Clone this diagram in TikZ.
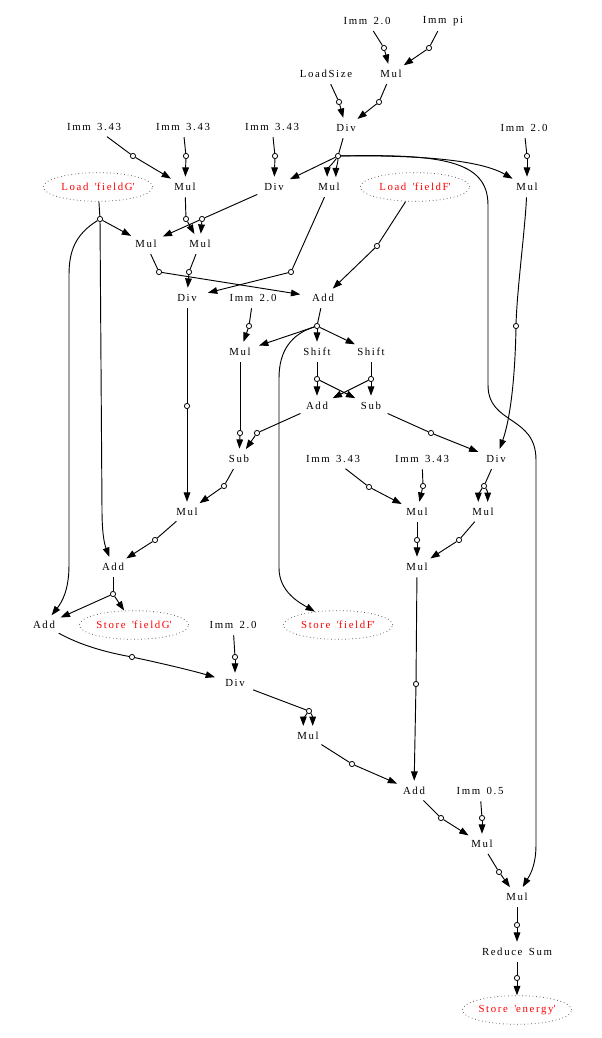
\documentclass[tikz,border=0pt]{standalone}
\usepackage{fontspec}
\setmainfont{Liberation Serif}[LetterSpace=15,WordSpace=1.5]
\usetikzlibrary{arrows.meta,shapes.geometric}
\newcommand{\q}{\textquotesingle}
\begin{document}
\begin{tikzpicture}[x=0.75pt,y=-0.75pt,
  op/.style={ellipse, minimum width=36pt, minimum height=15pt, inner sep=0pt,
    font=\fontsize{8.1pt}{9pt}\selectfont, text=black},
  io/.style={ellipse, draw=black!65, dash pattern=on 0.55pt off 2.1pt, line width=0.6pt,
    minimum width=82pt, minimum height=21.5pt, inner sep=0pt, text=red,
    font=\fontsize{8.1pt}{9pt}\selectfont},
  pt/.style={circle, draw=black, fill=white, minimum size=3.9pt, inner sep=0pt, line width=0.6pt},
  e/.style={line width=0.7pt, black},
  ea/.style={e, -{Triangle[length=7pt,width=5pt]}}]
\useasboundingbox (0,0) rectangle (601,1038);
% nodes
\node[op] (i1) at (367,21) {Imm 2.0};
\node[op] (i2) at (443,21) {Imm pi};
\node[op] (ls) at (326,74) {LoadSize};
\node[op] (m1) at (391,74) {Mul};
\node[op] (i3) at (94,127) {Imm 3.43};
\node[op] (i4) at (183,127) {Imm 3.43};
\node[op] (i5) at (272,127) {Imm 3.43};
\node[op] (d1) at (346,128) {Div};
\node[op] (i6) at (524,128) {Imm 2.0};
\node[io] (lg) at (98,187) {Load \q fieldG\q};
\node[op] (m2) at (185,187) {Mul};
\node[op] (d2) at (274,187) {Div};
\node[op] (m3) at (329,187) {Mul};
\node[io] (lf) at (415,187) {Load \q fieldF\q};
\node[op] (m4) at (527,187) {Mul};
\node[op] (m5) at (146,244) {Mul};
\node[op] (m6) at (200,244) {Mul};
\node[op] (d3) at (187,298) {Div};
\node[op] (i7) at (253,298) {Imm 2.0};
\node[op] (a1) at (323,298) {Add};
\node[op] (m7) at (240,352) {Mul};
\node[op] (s1) at (317,352) {Shift};
\node[op] (s2) at (371,352) {Shift};
\node[op] (a2) at (317,406) {Add};
\node[op] (sb1) at (371,406) {Sub};
\node[op] (sb2) at (239,459) {Sub};
\node[op] (i8) at (333,459) {Imm 3.43};
\node[op] (i9) at (422,459) {Imm 3.43};
\node[op] (d4) at (496,459) {Div};
\node[op] (m8) at (187,512) {Mul};
\node[op] (m9) at (417,512) {Mul};
\node[op] (m10) at (483,512) {Mul};
\node[op] (a3) at (113,567) {Add};
\node[op] (m11) at (417,567) {Mul};
\node[op] (a4) at (44,625) {Add};
\node[io] (sg) at (134,625) {Store \q fieldG\q};
\node[op] (i10) at (233,625) {Imm 2.0};
\node[io] (sf) at (338,625) {Store \q fieldF\q};
\node[op] (d5) at (235,683) {Div};
\node[op] (m12) at (308,736) {Mul};
\node[op] (a5) at (414,791) {Add};
\node[op] (i11) at (480,791) {Imm 0.5};
\node[op] (m13) at (482,844) {Mul};
\node[op] (m14) at (517,897) {Mul};
\node[op] (rs) at (517,952) {Reduce Sum};
\node[io] (se) at (517,1010) {Store \q energy\q};
% value points
\node[pt] (ci1) at (384,48) {};
\node[pt] (ci2) at (429,48) {};
\node[pt] (cls) at (339,102) {};
\node[pt] (cm1) at (379,102) {};
\node[pt] (ci3) at (133,156) {};
\node[pt] (ci4) at (186,156) {};
\node[pt] (ci5) at (275,156) {};
\node[pt] (cd1) at (338,156) {};
\node[pt] (ci6) at (527,156) {};
\node[pt] (clg) at (100,219) {};
\node[pt] (cm2) at (186,219) {};
\node[pt] (cd2) at (202,219) {};
\node[pt] (clf) at (377,246) {};
\node[pt] (cm5) at (159,272) {};
\node[pt] (cm6) at (189,272) {};
\node[pt] (cm3) at (291,272) {};
\node[pt] (ci7) at (249,326) {};
\node[pt] (ca1) at (317,326) {};
\node[pt] (cm4) at (516,326) {};
\node[pt] (cs1) at (317,379) {};
\node[pt] (cs2) at (371,379) {};
\node[pt] (cd3) at (187,406) {};
\node[pt] (cm7) at (240,433) {};
\node[pt] (ca2) at (257,433) {};
\node[pt] (csb1) at (431,433) {};
\node[pt] (csb2) at (224,486) {};
\node[pt] (ci8) at (369,487) {};
\node[pt] (ci9) at (423,486) {};
\node[pt] (cd4) at (484,486) {};
\node[pt] (cm8) at (155,540) {};
\node[pt] (cm9) at (417,540) {};
\node[pt] (cm10) at (459,540) {};
\node[pt] (ca3) at (113,594) {};
\node[pt] (ca4) at (132,657) {};
\node[pt] (ci10) at (235,657) {};
\node[pt] (cd5) at (309,711) {};
\node[pt] (cm11) at (416,684) {};
\node[pt] (cm12) at (352,764) {};
\node[pt] (ca5) at (441,818) {};
\node[pt] (ci11) at (482,818) {};
\node[pt] (cm13) at (499,872) {};
\node[pt] (cm14) at (517,925) {};
\node[pt] (crs) at (517,978) {};
% edges
\draw[e] (i1) -- (ci1); \draw[ea] (ci1) -- (m1);
\draw[e] (i2) -- (ci2); \draw[ea] (ci2) -- (m1);
\draw[e] (ls) -- (cls); \draw[ea] (cls) -- (d1);
\draw[e] (m1) -- (cm1); \draw[ea] (cm1) -- (d1);
\draw[e] (i3) -- (ci3); \draw[ea] (ci3) -- (m2);
\draw[e] (i4) -- (ci4); \draw[ea] (ci4) -- (m2);
\draw[e] (i5) -- (ci5); \draw[ea] (ci5) -- (d2);
\draw[e] (d1) -- (cd1);
\draw[ea] (cd1) -- (d2);
\draw[ea] (cd1) .. controls +(-4,6) and +(0,-7) .. (m3.100);
\draw[ea] (cd1) .. controls +(0,6) and +(0,-7) .. (m3.55);
\draw[ea] (cd1) .. controls (420,155) and (480,160) .. (m4);
\draw[ea] (cd1) .. controls (440,154) and (488,160) .. (488,205) -- (488,385)
  .. controls (488,425) and (536,415) .. (536,460) -- (536,845)
  .. controls (536,868) and (528,878) .. (m14);
\draw[e] (i6) -- (ci6); \draw[ea] (ci6) -- (m4);
\draw[e] (lg) -- (clg);
\draw[ea] (clg) -- (m5);
\draw[ea] (clg) -- (102,510) .. controls (102,540) and (106,548) .. (a3);
\draw[ea] (clg) .. controls (76,234) and (69,250) .. (69,275) -- (69,565)
  .. controls (69,590) and (62,602) .. (a4);
\draw[e] (m2) -- (cm2); \draw[ea] (cm2) -- (m6);
\draw[e] (d2) -- (cd2); \draw[ea] (cd2) -- (m5); \draw[ea] (cd2) -- (m6);
\draw[e] (lf) -- (clf); \draw[ea] (clf) -- (a1);
\draw[e] (m5) -- (cm5); \draw[ea] (cm5) -- (a1);
\draw[e] (m6) -- (cm6); \draw[ea] (cm6) -- (d3);
\draw[e] (m3) -- (cm3); \draw[ea] (cm3) -- (d3);
\draw[e] (i7) -- (ci7); \draw[ea] (ci7) -- (m7);
\draw[e] (a1) -- (ca1);
\draw[ea] (ca1) -- (m7); \draw[ea] (ca1) -- (s1); \draw[ea] (ca1) -- (s2);
\draw[ea] (ca1) .. controls (292,334) and (279,350) .. (279,378) -- (279,568)
  .. controls (279,592) and (300,603) .. (sf);
\draw[e] (m4) .. controls (525,230) and (517,290) .. (cm4);
\draw[ea] (cm4) .. controls (515,380) and (510,420) .. (d4);
\draw[e] (s1) -- (cs1); \draw[ea] (cs1) -- (a2); \draw[ea] (cs1) -- (sb1);
\draw[e] (s2) -- (cs2); \draw[ea] (cs2) -- (a2); \draw[ea] (cs2) -- (sb1);
\draw[e] (d3) -- (cd3); \draw[ea] (cd3) -- (m8);
\draw[e] (m7) -- (cm7); \draw[ea] (cm7) -- (sb2);
\draw[e] (a2) -- (ca2); \draw[ea] (ca2) -- (sb2);
\draw[e] (sb1) -- (csb1); \draw[ea] (csb1) -- (d4);
\draw[e] (sb2) -- (csb2); \draw[ea] (csb2) -- (m8);
\draw[e] (i8) -- (ci8); \draw[ea] (ci8) -- (m9);
\draw[e] (i9) -- (ci9); \draw[ea] (ci9) -- (m9);
\draw[e] (d4) -- (cd4);
\draw[ea] (cd4) .. controls +(-4,5) and +(0,-6) .. (m10.115);
\draw[ea] (cd4) .. controls +(4,5) and +(0,-6) .. (m10.65);
\draw[e] (m8) -- (cm8); \draw[ea] (cm8) -- (a3);
\draw[e] (m9) -- (cm9); \draw[ea] (cm9) -- (m11);
\draw[e] (m10) -- (cm10); \draw[ea] (cm10) -- (m11);
\draw[e] (a3) -- (ca3); \draw[ea] (ca3) -- (a4); \draw[ea] (ca3) -- (sg);
\draw[e] (a4) .. controls (80,645) and (105,652) .. (ca4);
\draw[ea] (ca4) .. controls (160,663) and (190,670) .. (d5);
\draw[e] (i10) -- (ci10); \draw[ea] (ci10) -- (d5);
\draw[e] (d5) -- (cd5);
\draw[ea] (cd5) .. controls +(-4,5) and +(0,-6) .. (m12.115);
\draw[ea] (cd5) .. controls +(4,5) and +(0,-6) .. (m12.65);
\draw[e] (m11) -- (cm11); \draw[ea] (cm11) -- (a5);
\draw[e] (m12) -- (cm12); \draw[ea] (cm12) -- (a5);
\draw[e] (a5) -- (ca5); \draw[ea] (ca5) -- (m13);
\draw[e] (i11) -- (ci11); \draw[ea] (ci11) -- (m13);
\draw[e] (m13) -- (cm13); \draw[ea] (cm13) -- (m14);
\draw[e] (m14) -- (cm14); \draw[ea] (cm14) -- (rs);
\draw[e] (rs) -- (crs); \draw[ea] (crs) -- (se);
\end{tikzpicture}
\end{document}
